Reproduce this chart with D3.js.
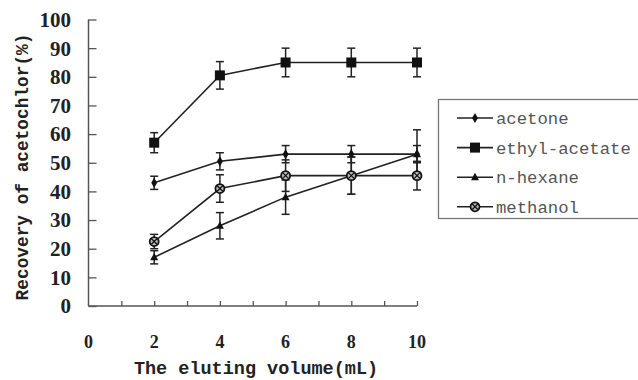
<!DOCTYPE html>
<html>
<head>
<meta charset="utf-8">
<script src="https://cdn.jsdelivr.net/npm/d3@7"></script>
<style>
  body { margin: 0; background: #fff; }
  svg { display: block; }
</style>
</head>
<body>
<svg id="chart" width="638" height="380"></svg>
<script>
(function() {
  // eluting volume (mL)
  let volumes = [2, 4, 6, 8, 10];

  // recovery (%) and error for each eluent
  let acetone = [43, 50.5, 53, 53, 53];
  let acetoneErr = [2.3, 3, 3, 3, 3];
  let ethylAcetate = [57, 80.5, 85, 85, 85];
  let ethylAcetateErr = [3.5, 4.8, 5, 5, 5];
  let nHexane = [17, 28, 38, 45.5, 53];
  let nHexaneErr = [2.3, 4.6, 6, 6.5, 8.5];
  let methanol = [22.5, 41, 45.5, 45.5, 45.5];
  let methanolErr = [2.5, 4.8, 5.5, 6.5, 5];

  let seriesNames = ['acetone', 'ethyl-acetate', 'n-hexane', 'methanol'];
  let markerTypes = ['diamond', 'square', 'triangle', 'circlex'];

  let xTicks = [0, 2, 4, 6, 8, 10];
  let yTicks = [0, 10, 20, 30, 40, 50, 60, 70, 80, 90, 100];

  let series = [
    { name: seriesNames[0], marker: markerTypes[0], values: acetone, errs: acetoneErr },
    { name: seriesNames[1], marker: markerTypes[1], values: ethylAcetate, errs: ethylAcetateErr },
    { name: seriesNames[2], marker: markerTypes[2], values: nHexane, errs: nHexaneErr },
    { name: seriesNames[3], marker: markerTypes[3], values: methanol, errs: methanolErr }
  ];

  let svg = d3.select('#chart');
  let x = d3.scaleLinear().domain([0, 10]).range([88.5, 417]);
  let y = d3.scaleLinear().domain([0, 100]).range([306, 19.5]);

  let axisColor = '#555';

  //
  // Axes (ticks point inward)
  //
  let yAxis = svg.append('g')
    .attr('transform', `translate(${x(0)},0)`)
    .call(d3.axisRight(y).tickValues(yTicks).tickSize(8).tickFormat(''));
  yAxis.select('.domain').attr('stroke', axisColor).attr('stroke-width', 1.5)
    .attr('d', `M0,${y(0)}V${y(100)}`);
  yAxis.selectAll('.tick line').attr('stroke', axisColor).attr('stroke-width', 1.3);

  let xAxis = svg.append('g')
    .attr('transform', `translate(0,${y(0)})`)
    .call(d3.axisTop(x).tickValues(d3.range(1, 11)).tickSize(5).tickFormat(''));
  xAxis.select('.domain').attr('stroke', axisColor).attr('stroke-width', 1.5)
    .attr('d', `M${x(0)},0H${x(10)}`);
  xAxis.selectAll('.tick line').attr('stroke', axisColor).attr('stroke-width', 1.3);

  // tick labels
  svg.append('g').selectAll('text')
    .data(yTicks)
    .enter().append('text')
      .attr('x', 71)
      .attr('y', (d) => y(d))
      .attr('dy', '0.35em')
      .attr('text-anchor', 'end')
      .attr('font-family', '"Liberation Serif", serif')
      .attr('font-weight', 'bold')
      .attr('font-size', 21)
      .attr('fill', '#222')
      .text((d) => d);

  svg.append('g').selectAll('text')
    .data(xTicks)
    .enter().append('text')
      .attr('x', (d) => x(d))
      .attr('y', 341.5)
      .attr('dy', '0.35em')
      .attr('text-anchor', 'middle')
      .attr('font-family', '"Liberation Serif", serif')
      .attr('font-weight', 'bold')
      .attr('font-size', 18)
      .attr('fill', '#222')
      .text((d) => d);

  // axis titles
  svg.append('text')
    .attr('transform', `translate(28,${(y(0) + 28) / 2}) rotate(-90)`)
    .attr('text-anchor', 'middle')
    .attr('font-family', '"Liberation Mono", monospace')
    .attr('font-weight', 'bold')
    .attr('font-size', 17.8)
    .attr('fill', '#222')
    .text('Recovery of acetochlor(%)');

  svg.append('text')
    .attr('x', 256)
    .attr('y', 374)
    .attr('text-anchor', 'middle')
    .attr('font-family', '"Liberation Mono", monospace')
    .attr('font-weight', 'bold')
    .attr('font-size', 18.5)
    .attr('fill', '#222')
    .text('The eluting volume(mL)');

  //
  // Markers
  //
  function drawMarker(g, type) {
    if (type === 'diamond') {
      g.append('path').attr('d', d3.symbol(d3.symbolDiamond, 30)()).attr('fill', '#111');
    } else if (type === 'square') {
      g.append('rect').attr('x', -5).attr('y', -5).attr('width', 10).attr('height', 10).attr('fill', '#111');
    } else if (type === 'triangle') {
      g.append('path').attr('d', 'M0,-4.5L4,3L-4,3Z').attr('fill', '#111');
    } else {
      g.append('circle').attr('r', 4.5).attr('fill', '#bbb').attr('stroke', '#111').attr('stroke-width', 1.8);
      g.append('path').attr('d', 'M-3,-3L3,3M-3,3L3,-3').attr('stroke', '#111').attr('stroke-width', 1.3);
    }
  }

  let line = d3.line()
    .x((d) => x(d.v))
    .y((d) => y(d.r));

  for (let s of series) {
    let pts = volumes.map((v, i) => ({ v: v, r: s.values[i], e: s.errs[i] }));
    let g = svg.append('g').attr('class', 'series');

    g.append('path')
      .datum(pts)
      .attr('d', line)
      .attr('fill', 'none')
      .attr('stroke', '#222')
      .attr('stroke-width', 1.6);

    let bars = g.selectAll('.err').data(pts).enter().append('g').attr('class', 'err')
      .attr('stroke', '#222').attr('stroke-width', 1.5);
    bars.append('line')
      .attr('x1', (d) => x(d.v)).attr('x2', (d) => x(d.v))
      .attr('y1', (d) => y(d.r + d.e)).attr('y2', (d) => y(d.r - d.e));
    bars.append('line')
      .attr('x1', (d) => x(d.v) - 4).attr('x2', (d) => x(d.v) + 4)
      .attr('y1', (d) => y(d.r + d.e)).attr('y2', (d) => y(d.r + d.e));
    bars.append('line')
      .attr('x1', (d) => x(d.v) - 4).attr('x2', (d) => x(d.v) + 4)
      .attr('y1', (d) => y(d.r - d.e)).attr('y2', (d) => y(d.r - d.e));

    g.selectAll('.mk').data(pts).enter().append('g')
      .attr('class', 'mk')
      .attr('transform', (d) => `translate(${x(d.v)},${y(d.r)})`)
      .each(function() { drawMarker(d3.select(this), s.marker); });
  }

  //
  // Legend
  //
  let legend = svg.append('g').attr('transform', 'translate(438,99)');
  legend.append('rect')
    .attr('x', 0.5).attr('y', 0.5)
    .attr('width', 205).attr('height', 119)
    .attr('fill', '#fff')
    .attr('stroke', '#777')
    .attr('stroke-width', 1.3);

  let rows = legend.selectAll('.row').data(series).enter().append('g')
    .attr('class', 'row')
    .attr('transform', (d, i) => `translate(0,${19 + i * 29.6})`);
  rows.append('line')
    .attr('x1', 19).attr('x2', 55)
    .attr('stroke', '#222').attr('stroke-width', 1.6);
  rows.append('g')
    .attr('transform', 'translate(37,0)')
    .each(function(d) { drawMarker(d3.select(this), d.marker); });
  rows.append('text')
    .attr('x', 58)
    .attr('dy', '0.35em')
    .attr('font-family', '"Liberation Mono", monospace')
    .attr('font-size', 17.3)
    .attr('fill', '#555')
    .text((d) => d.name);
})();
</script>
</body>
</html>
